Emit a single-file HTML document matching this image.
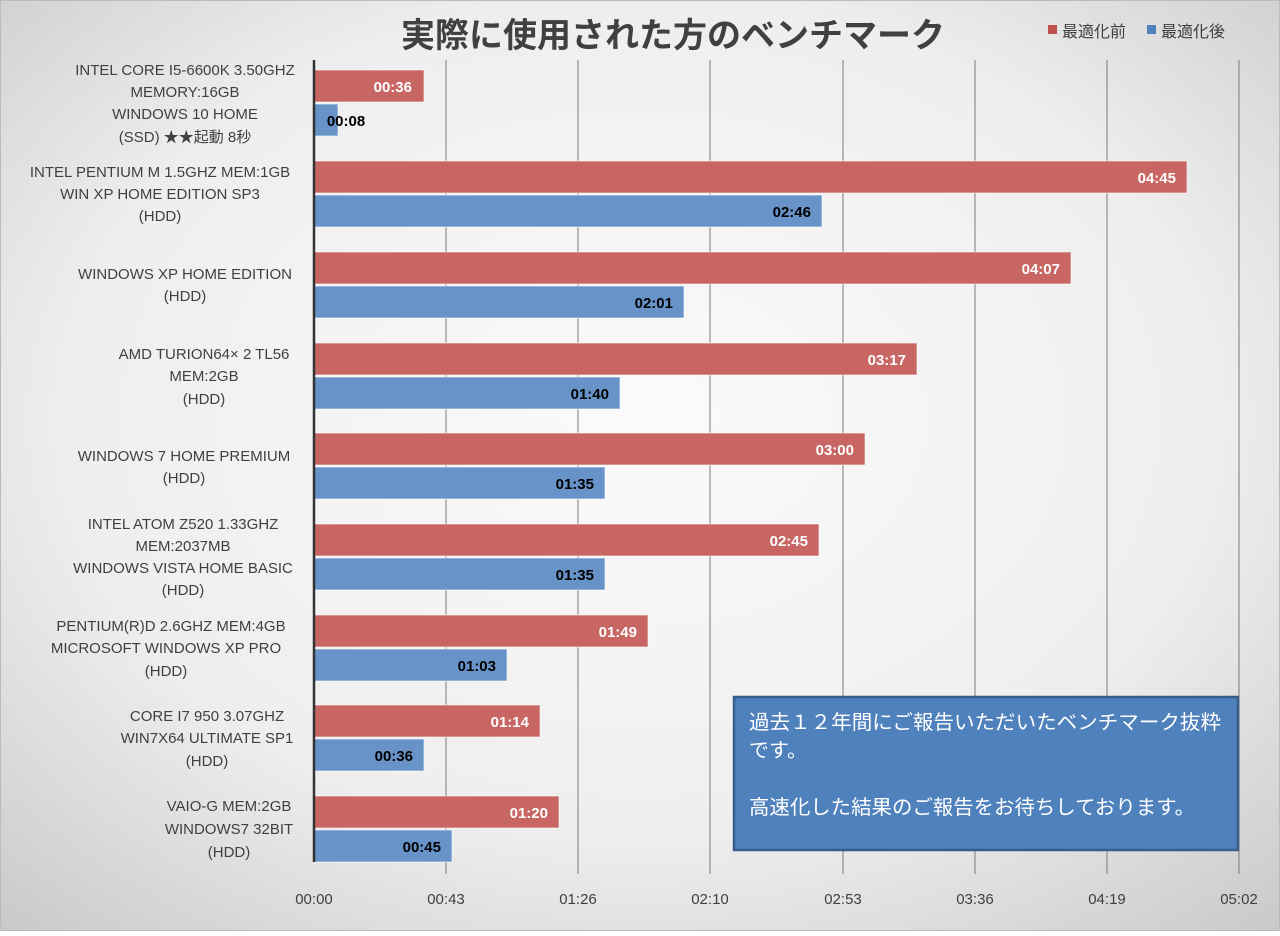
<!DOCTYPE html>
<html><head><meta charset="utf-8"><style>
html,body{margin:0;padding:0}
body{width:1280px;height:931px;overflow:hidden;font-family:"Liberation Sans","Noto Sans CJK JP",sans-serif}
</style></head><body>
<svg width="1280" height="931" xmlns="http://www.w3.org/2000/svg" font-family="'Liberation Sans','Noto Sans CJK JP',sans-serif">
<defs>
<radialGradient id="bg" cx="50%" cy="45%" r="75%">
<stop offset="0" stop-color="#fbfbfb"/><stop offset="0.6" stop-color="#eeeeee"/><stop offset="1" stop-color="#c8c8c8"/>
</radialGradient>
</defs>
<rect width="1280" height="931" fill="url(#bg)"/>
<rect x="0.5" y="0.5" width="1279" height="930" fill="none" stroke="#bbb"/>
<text x="673" y="47" text-anchor="middle" font-size="34" font-weight="bold" fill="#404040">実際に使用された方のベンチマーク</text>
<rect x="1048" y="25" width="9" height="9" fill="#c0504d"/>
<text x="1062" y="37" font-size="16" fill="#404040">最適化前</text>
<rect x="1147" y="25" width="9" height="9" fill="#4f81bd"/>
<text x="1161" y="37" font-size="16" fill="#404040">最適化後</text>
<g stroke="#7a7a7a" stroke-width="1">
<line x1="446" y1="60" x2="446" y2="874"/><line x1="578" y1="60" x2="578" y2="874"/>
<line x1="710" y1="60" x2="710" y2="874"/><line x1="843" y1="60" x2="843" y2="874"/>
<line x1="975" y1="60" x2="975" y2="874"/><line x1="1107" y1="60" x2="1107" y2="874"/>
<line x1="1239" y1="60" x2="1239" y2="874"/>
</g>
<g font-size="15" fill="#404040" text-anchor="middle">
<text x="314" y="904">00:00</text><text x="446" y="904">00:43</text><text x="578" y="904">01:26</text>
<text x="710" y="904">02:10</text><text x="843" y="904">02:53</text><text x="975" y="904">03:36</text>
<text x="1107" y="904">04:19</text><text x="1239" y="904">05:02</text>
</g>
<g stroke="#fff" stroke-opacity="0.6" stroke-width="1">
<rect x="314" y="70" width="110" height="32" fill="#c86664"/>
<rect x="314" y="104" width="24" height="32" fill="#6893c8"/>
<rect x="314" y="161" width="873" height="32" fill="#c86664"/>
<rect x="314" y="195" width="508" height="32" fill="#6893c8"/>
<rect x="314" y="252" width="757" height="32" fill="#c86664"/>
<rect x="314" y="286" width="370" height="32" fill="#6893c8"/>
<rect x="314" y="343" width="603" height="32" fill="#c86664"/>
<rect x="314" y="377" width="306" height="32" fill="#6893c8"/>
<rect x="314" y="433" width="551" height="32" fill="#c86664"/>
<rect x="314" y="467" width="291" height="32" fill="#6893c8"/>
<rect x="314" y="524" width="505" height="32" fill="#c86664"/>
<rect x="314" y="558" width="291" height="32" fill="#6893c8"/>
<rect x="314" y="615" width="334" height="32" fill="#c86664"/>
<rect x="314" y="649" width="193" height="32" fill="#6893c8"/>
<rect x="314" y="705" width="226" height="32" fill="#c86664"/>
<rect x="314" y="739" width="110" height="32" fill="#6893c8"/>
<rect x="314" y="796" width="245" height="32" fill="#c86664"/>
<rect x="314" y="830" width="138" height="32" fill="#6893c8"/>
</g>
<line x1="314" y1="60" x2="314" y2="862" stroke="#333" stroke-width="2.5"/>
<g font-size="15" font-weight="bold" text-anchor="end">
<text x="412" y="92" fill="#fff">00:36</text><text x="346" y="126" fill="#000" text-anchor="middle">00:08</text>
<text x="1176" y="183" fill="#fff">04:45</text><text x="811" y="217" fill="#000">02:46</text>
<text x="1060" y="274" fill="#fff">04:07</text><text x="673" y="308" fill="#000">02:01</text>
<text x="906" y="365" fill="#fff">03:17</text><text x="609" y="399" fill="#000">01:40</text>
<text x="854" y="455" fill="#fff">03:00</text><text x="594" y="489" fill="#000">01:35</text>
<text x="808" y="546" fill="#fff">02:45</text><text x="594" y="580" fill="#000">01:35</text>
<text x="637" y="637" fill="#fff">01:49</text><text x="496" y="671" fill="#000">01:03</text>
<text x="529" y="727" fill="#fff">01:14</text><text x="413" y="761" fill="#000">00:36</text>
<text x="548" y="818" fill="#fff">01:20</text><text x="441" y="852" fill="#000">00:45</text>
</g>
<g font-size="15" fill="#404040" text-anchor="middle">
<text x="185" y="75">INTEL CORE I5-6600K 3.50GHZ</text>
<text x="185" y="97">MEMORY:16GB</text>
<text x="185" y="119">WINDOWS 10 HOME</text>
<text x="185" y="142">(SSD) ★★起動 8秒</text>
<text x="160" y="177">INTEL PENTIUM M  1.5GHZ MEM:1GB</text>
<text x="160" y="199">WIN XP HOME EDITION SP3</text>
<text x="160" y="221">(HDD)</text>
<text x="185" y="279">WINDOWS XP HOME EDITION</text>
<text x="185" y="301">(HDD)</text>
<text x="204" y="359">AMD TURION64× 2 TL56</text>
<text x="204" y="381">MEM:2GB</text>
<text x="204" y="404">(HDD)</text>
<text x="184" y="461">WINDOWS 7 HOME PREMIUM</text>
<text x="184" y="483">(HDD)</text>
<text x="183" y="529">INTEL ATOM Z520 1.33GHZ</text>
<text x="183" y="551">MEM:2037MB</text>
<text x="183" y="573">WINDOWS VISTA HOME BASIC</text>
<text x="183" y="595">(HDD)</text>
<text x="171" y="631">PENTIUM(R)D   2.6GHZ MEM:4GB</text>
<text x="166" y="653">MICROSOFT WINDOWS XP PRO</text>
<text x="166" y="676">(HDD)</text>
<text x="207" y="721">CORE I7 950 3.07GHZ</text>
<text x="207" y="743">WIN7X64 ULTIMATE SP1</text>
<text x="207" y="766">(HDD)</text>
<text x="229" y="811">VAIO-G MEM:2GB</text>
<text x="229" y="834">WINDOWS7 32BIT</text>
<text x="229" y="857">(HDD)</text>
</g>
<rect x="734" y="697" width="504" height="153" fill="#4f81bd" stroke="#385d8a" stroke-width="2.5"/>
<g font-size="20" fill="#fff">
<text x="749" y="729" textLength="472" lengthAdjust="spacingAndGlyphs">過去１２年間にご報告いただいたベンチマーク抜粋</text>
<text x="749" y="757">です。</text>
<text x="749" y="814" textLength="446" lengthAdjust="spacingAndGlyphs">高速化した結果のご報告をお待ちしております。</text>
</g>
</svg>
</body></html>
